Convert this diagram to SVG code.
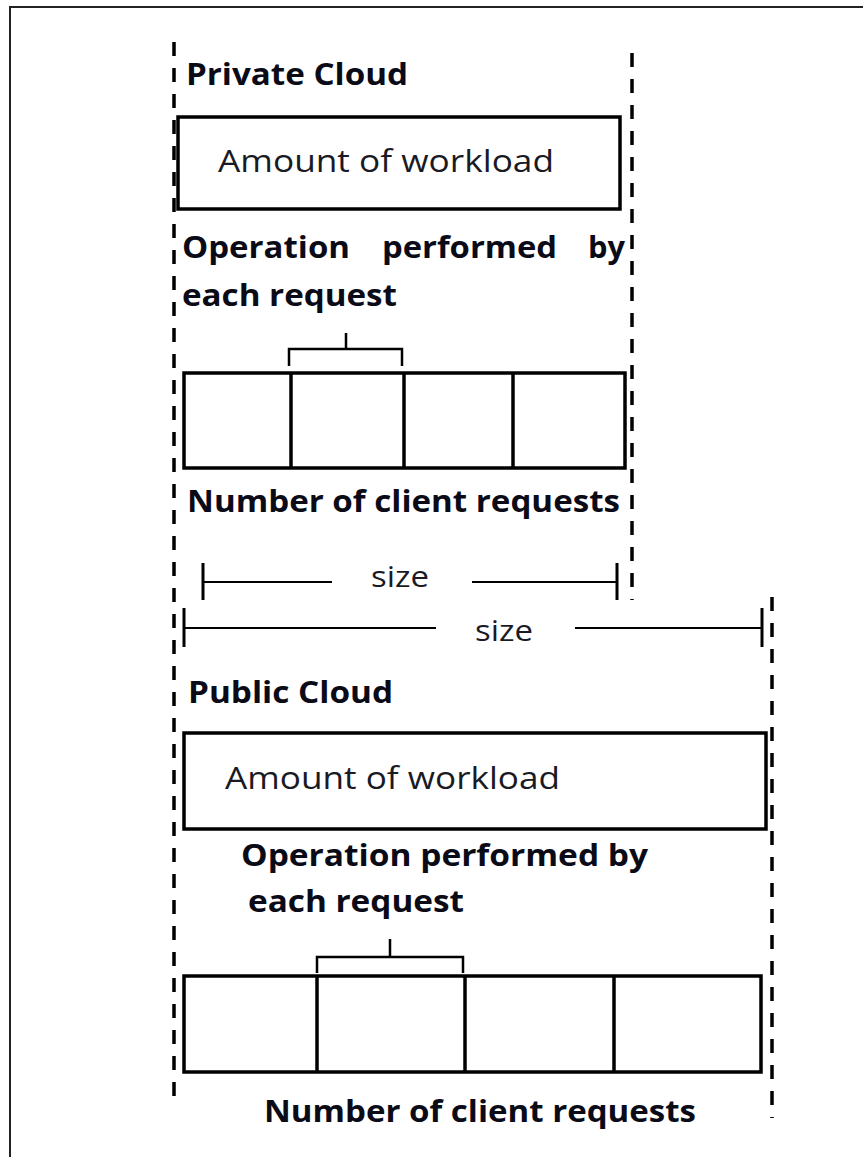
<svg xmlns="http://www.w3.org/2000/svg" width="863" height="1157" viewBox="0 0 863 1157">
<style>
.bg{fill:#fff}
.frame{fill:none;stroke:#222;stroke-width:2}
.dash{fill:none;stroke:#000;stroke-width:3.5;stroke-dasharray:14 12}
.box{fill:none;stroke:#000;stroke-width:3.5}
.cell{fill:none;stroke:#000;stroke-width:3.5}
.br{fill:none;stroke:#000;stroke-width:2.5}
.dim{fill:none;stroke:#000;stroke-width:2.2}
.tick{fill:none;stroke:#000;stroke-width:3}
.h{font-family:"Open Sans","Noto Sans",sans-serif;font-weight:bold;font-size:30px;fill:#0b0b18}
.r{font-family:"Open Sans","Noto Sans",sans-serif;font-size:31px;fill:#1a1a24}
.s{font-family:"Open Sans","Noto Sans",sans-serif;font-size:29px;fill:#1a1a24}
</style>
<rect class="bg" x="0" y="0" width="863" height="1157"/>
<path class="frame" d="M10,1160 V7 H866"/>
<g id="boundaries">
<line class="dash" x1="174" y1="42" x2="174" y2="1103"/>
<line class="dash" x1="632" y1="53" x2="632" y2="600"/>
<line class="dash" x1="772" y1="597" x2="772" y2="1118"/>
</g>
<g id="private-cloud">
<text class="h" x="186" y="85" textLength="222" lengthAdjust="spacingAndGlyphs">Private Cloud</text>
</g>
<g id="private-workload">
<rect class="box" x="178" y="117" width="442" height="92"/>
<text class="r" x="218" y="172" textLength="336" lengthAdjust="spacingAndGlyphs">Amount of workload</text>
</g>
<g id="private-operation">
<text class="h" x="182" y="258" textLength="168" lengthAdjust="spacingAndGlyphs">Operation</text>
<text class="h" x="382" y="258" textLength="175" lengthAdjust="spacingAndGlyphs">performed</text>
<text class="h" x="588" y="258" textLength="37" lengthAdjust="spacingAndGlyphs">by</text>
<text class="h" x="182" y="306" textLength="215" lengthAdjust="spacingAndGlyphs">each request</text>
</g>
<g id="private-requests">
<rect class="cell" x="184" y="373" width="441" height="95"/>
<line class="cell" x1="291" y1="373" x2="291" y2="468"/>
<line class="cell" x1="404" y1="373" x2="404" y2="468"/>
<line class="cell" x1="513" y1="373" x2="513" y2="468"/>
<text class="h" x="187" y="512" textLength="433" lengthAdjust="spacingAndGlyphs">Number of client requests</text>
</g>
<g id="connectors">
<path class="br" d="M289,366 V349 H402 V366 M346,349 V333"/>
<path class="br" d="M317,973 V957 H463 V973 M390,957 V939"/>
<line class="dim" x1="203" y1="582" x2="332" y2="582"/>
<line class="dim" x1="472" y1="582" x2="617" y2="582"/>
<line class="tick" x1="203" y1="563" x2="203" y2="600"/>
<line class="tick" x1="617" y1="563" x2="617" y2="600"/>
<line class="dim" x1="184" y1="628" x2="436" y2="628"/>
<line class="dim" x1="575" y1="628" x2="762" y2="628"/>
<line class="tick" x1="184" y1="608" x2="184" y2="647"/>
<line class="tick" x1="762" y1="608" x2="762" y2="647"/>
</g>
<g id="private-size">
<text class="s" x="371" y="587" textLength="58" lengthAdjust="spacingAndGlyphs">size</text>
</g>
<g id="public-size">
<text class="s" x="475" y="641" textLength="58" lengthAdjust="spacingAndGlyphs">size</text>
</g>
<g id="public-cloud">
<text class="h" x="188" y="703" textLength="205" lengthAdjust="spacingAndGlyphs">Public Cloud</text>
</g>
<g id="public-workload">
<rect class="box" x="184" y="733" width="582" height="96"/>
<text class="r" x="225" y="789" textLength="335" lengthAdjust="spacingAndGlyphs">Amount of workload</text>
</g>
<g id="public-operation">
<text class="h" x="241" y="866" textLength="407" lengthAdjust="spacingAndGlyphs">Operation performed by</text>
<text class="h" x="248" y="912" textLength="216" lengthAdjust="spacingAndGlyphs">each request</text>
</g>
<g id="public-requests">
<rect class="cell" x="184" y="976" width="577" height="96"/>
<line class="cell" x1="317" y1="976" x2="317" y2="1072"/>
<line class="cell" x1="465" y1="976" x2="465" y2="1072"/>
<line class="cell" x1="614" y1="976" x2="614" y2="1072"/>
<text class="h" x="264" y="1122" textLength="432" lengthAdjust="spacingAndGlyphs">Number of client requests</text>
</g>
</svg>
